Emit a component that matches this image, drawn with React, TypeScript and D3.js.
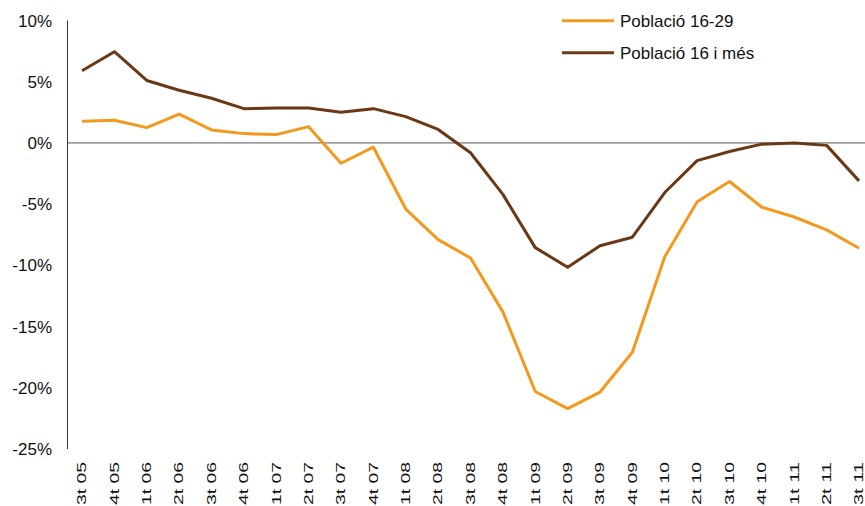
import React from 'react';
import * as d3 from 'd3';

const quarters = [
  '3t 05', '4t 05', '1t 06', '2t 06', '3t 06', '4t 06', '1t 07', '2t 07', '3t 07', '4t 07',
  '1t 08', '2t 08', '3t 08', '4t 08', '1t 09', '2t 09', '3t 09', '4t 09', '1t 10', '2t 10',
  '3t 10', '4t 10', '1t 11', '2t 11', '3t 11',
];

const young = [
  1.77, 1.85, 1.25, 2.35, 1.06, 0.76, 0.68, 1.33, -1.66, -0.35,
  -5.4, -7.9, -9.4, -13.8, -20.3, -21.7, -20.35, -17.1, -9.3, -4.8,
  -3.15, -5.25, -6.05, -7.1, -8.6,
];

const allPop = [
  5.9, 7.45, 5.1, 4.3, 3.65, 2.8, 2.85, 2.85, 2.5, 2.8,
  2.15, 1.1, -0.8, -4.2, -8.55, -10.15, -8.4, -7.7, -4.05, -1.45,
  -0.7, -0.1, 0.0, -0.2, -3.1,
];

const yTicks = [10, 5, 0, -5, -10, -15, -20, -25];

const series = [
  { name: 'Població 16-29', values: young, color: '#F39A1E' },
  { name: 'Població 16 i més', values: allPop, color: '#6B3815' },
];

const W = 865;
const H = 506;
const font = '"Liberation Sans", Arial, sans-serif';

const App: React.FC = () => {
  const x = d3.scalePoint<string>().domain(quarters).range([82, 859]);
  const y = d3.scaleLinear().domain([-25, 10]).range([449, 20.5]);

  const line = (vals: number[]) =>
    d3.line<number>()
      .x((_, i) => x(quarters[i]) as number)
      .y((d) => y(d))(vals) as string;

  return (
    <svg
      width={W}
      height={H}
      style={{ position: 'absolute', left: 0, top: 0, background: '#fff' }}
      fontFamily={font}
    >
      {/* y axis */}
      <line x1={67.5} x2={67.5} y1={y(10)} y2={y(-25)} stroke="#333" strokeWidth={1} />
      {yTicks.map((t) => (
        <text
          key={t}
          x={52}
          y={y(t)}
          dy="0.36em"
          textAnchor="end"
          fontSize={17}
          fill="#111"
        >
          {`${t}%`}
        </text>
      ))}

      {/* zero line */}
      <line x1={67} x2={W} y1={y(0)} y2={y(0)} stroke="#555" strokeWidth={1} />

      {/* x labels */}
      {quarters.map((q) => {
        const px = x(q) as number;
        return (
          <text
            key={q}
            transform={`translate(${px},462) rotate(-90)`}
            dy="0.36em"
            textAnchor="end"
            fontSize={12}
            textLength={43}
            lengthAdjust="spacingAndGlyphs"
            fill="#111"
          >
            {q}
          </text>
        );
      })}

      {/* series lines */}
      {series.map((s) => (
        <path
          key={s.name}
          d={line(s.values)}
          fill="none"
          stroke={s.color}
          strokeWidth={3}
          strokeLinejoin="round"
        />
      ))}

      {/* legend */}
      {series.map((s, i) => {
        const ly = 20.7 + i * 32;
        return (
          <g key={s.name}>
            <line x1={562} x2={614} y1={ly} y2={ly} stroke={s.color} strokeWidth={3} />
            <text x={620} y={ly} dy="0.36em" fontSize={17} fill="#111">
              {s.name}
            </text>
          </g>
        );
      })}
    </svg>
  );
};

export default App;
